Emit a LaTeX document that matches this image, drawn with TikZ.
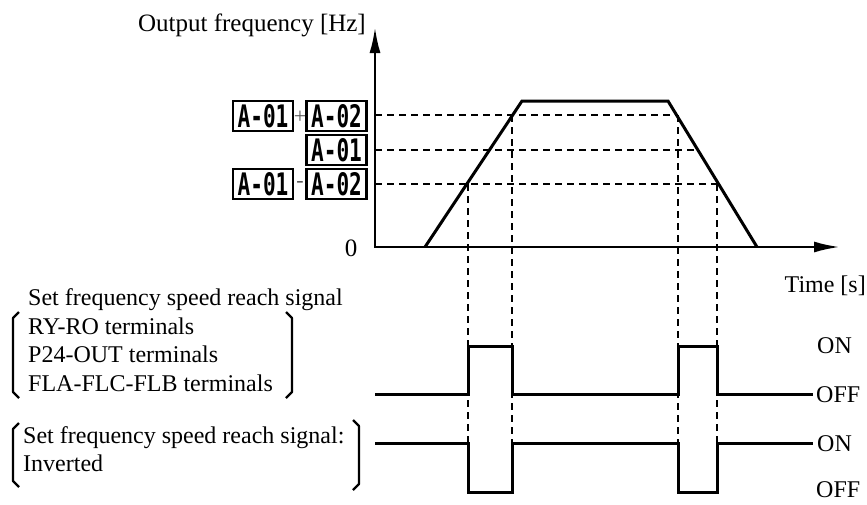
\documentclass[tikz,border=0pt]{standalone}
\usepackage{fontspec}
\setmainfont{Liberation Serif}
\newfontfamily\segfont{DejaVu Sans Mono}
\usetikzlibrary{arrows.meta}
\tikzset{
  axisline/.style={line width=2.6pt, {Latex[length=26pt,width=11pt]}-{Latex[length=26pt,width=11pt]}},
  curve/.style={line width=3pt, line join=miter},
  guide/.style={line width=2.4pt, dash pattern=on 7pt off 5pt},
  sig/.style={line width=3pt, line join=miter},
  brk/.style={line width=2.2pt, line join=round},
  lbl/.style={font=\fontsize{24}{28}\selectfont, inner sep=0pt},
  disp/.style={draw, line width=2.4pt, minimum width=60pt, minimum height=30pt, inner sep=0pt,
    font=\segfont\bfseries\fontsize{31}{31}\selectfont},
  opsign/.style={font=\fontsize{22}{22}\selectfont, text=black!65, inner sep=0pt}
}
\newcommand{\segtxt}[1]{\scalebox{0.68}[1]{#1}}
\begin{document}
\begin{tikzpicture}[x=1pt,y=-1pt]
\useasboundingbox (0,0) rectangle (867,504);

% axes
\coordinate (O) at (375,247);
\coordinate (ytip) at (375,27);
\coordinate (xtip) at (840,247);
\draw[axisline] (ytip) -- (O) -- (xtip);

% labels of axes
\node[lbl, font=\fontsize{25}{28}\selectfont, anchor=base east] (ylab) at (366,31) {Output frequency [Hz]};
\node[lbl, anchor=base east] (xlab) at (866,292) {Time [s]};
\node[lbl, font=\fontsize{25}{28}\selectfont] (zero) at (351,248) {0};

% guide lines (horizontal)
\draw[guide] (375,115) -- (677,115);
\draw[guide] (375,150) -- (698,150);
\draw[guide] (375,184) -- (718,184);

% guide lines (vertical)
\draw[guide] (468,184) -- (468,443);
\draw[guide] (512,115) -- (512,443);
\draw[guide] (678,115) -- (678,443);
\draw[guide] (717,184) -- (717,443);

% frequency profile
\draw[curve] (425,247) -- (522,101) -- (668,101) -- (757,247);

% display boxes
\node[disp] (d1a) at (263,116) {\segtxt{A-01}};
\node[opsign] (plus) at (300,117) {+};
\node[disp] (d1b) at (336.5,116) {\segtxt{A-02}};
\node[disp] (d2) at (336.5,150) {\segtxt{A-01}};
\node[disp] (d3a) at (263,184) {\segtxt{A-01}};
\node[opsign] (minus) at (300,184) {-};
\node[disp] (d3b) at (336.5,184) {\segtxt{A-02}};

% signal 1
\draw[sig] (375,394) -- (468,394) -- (468,346) -- (512,346) -- (512,394)
  -- (678,394) -- (678,346) -- (717,346) -- (717,394) -- (813,394);
% signal 2 (inverted)
\draw[sig] (375,443) -- (468,443) -- (468,492) -- (512,492) -- (512,443)
  -- (678,443) -- (678,492) -- (717,492) -- (717,443) -- (813,443);

% ON / OFF labels
\node[lbl, anchor=west] (on1) at (817,346) {ON};
\node[lbl, anchor=west] (off1) at (816,395) {OFF};
\node[lbl, anchor=west] (on2) at (817,444) {ON};
\node[lbl, anchor=west] (off2) at (816,490) {OFF};

% group 1 text
\node[lbl, anchor=base west] (g1a) at (28,305) {Set frequency speed reach signal};
\node[lbl, anchor=base west] (g1b) at (28,334) {RY-RO terminals};
\node[lbl, anchor=base west] (g1c) at (28,362) {P24-OUT terminals};
\node[lbl, anchor=base west] (g1d) at (28,391) {FLA-FLC-FLB terminals};
\draw[brk] (19,312) -- (13,318) -- (13,392) -- (19,398);
\draw[brk] (286,312) -- (292,318) -- (292,392) -- (286,398);

% group 2 text
\node[lbl, anchor=base west] (g2a) at (23,443) {Set frequency speed reach signal:};
\node[lbl, anchor=base west] (g2b) at (23,471) {Inverted};
\draw[brk] (19,423) -- (13,429) -- (13,481) -- (19,487);
\draw[brk] (353,420) -- (359,426) -- (359,484) -- (353,490);
\end{tikzpicture}
\end{document}
